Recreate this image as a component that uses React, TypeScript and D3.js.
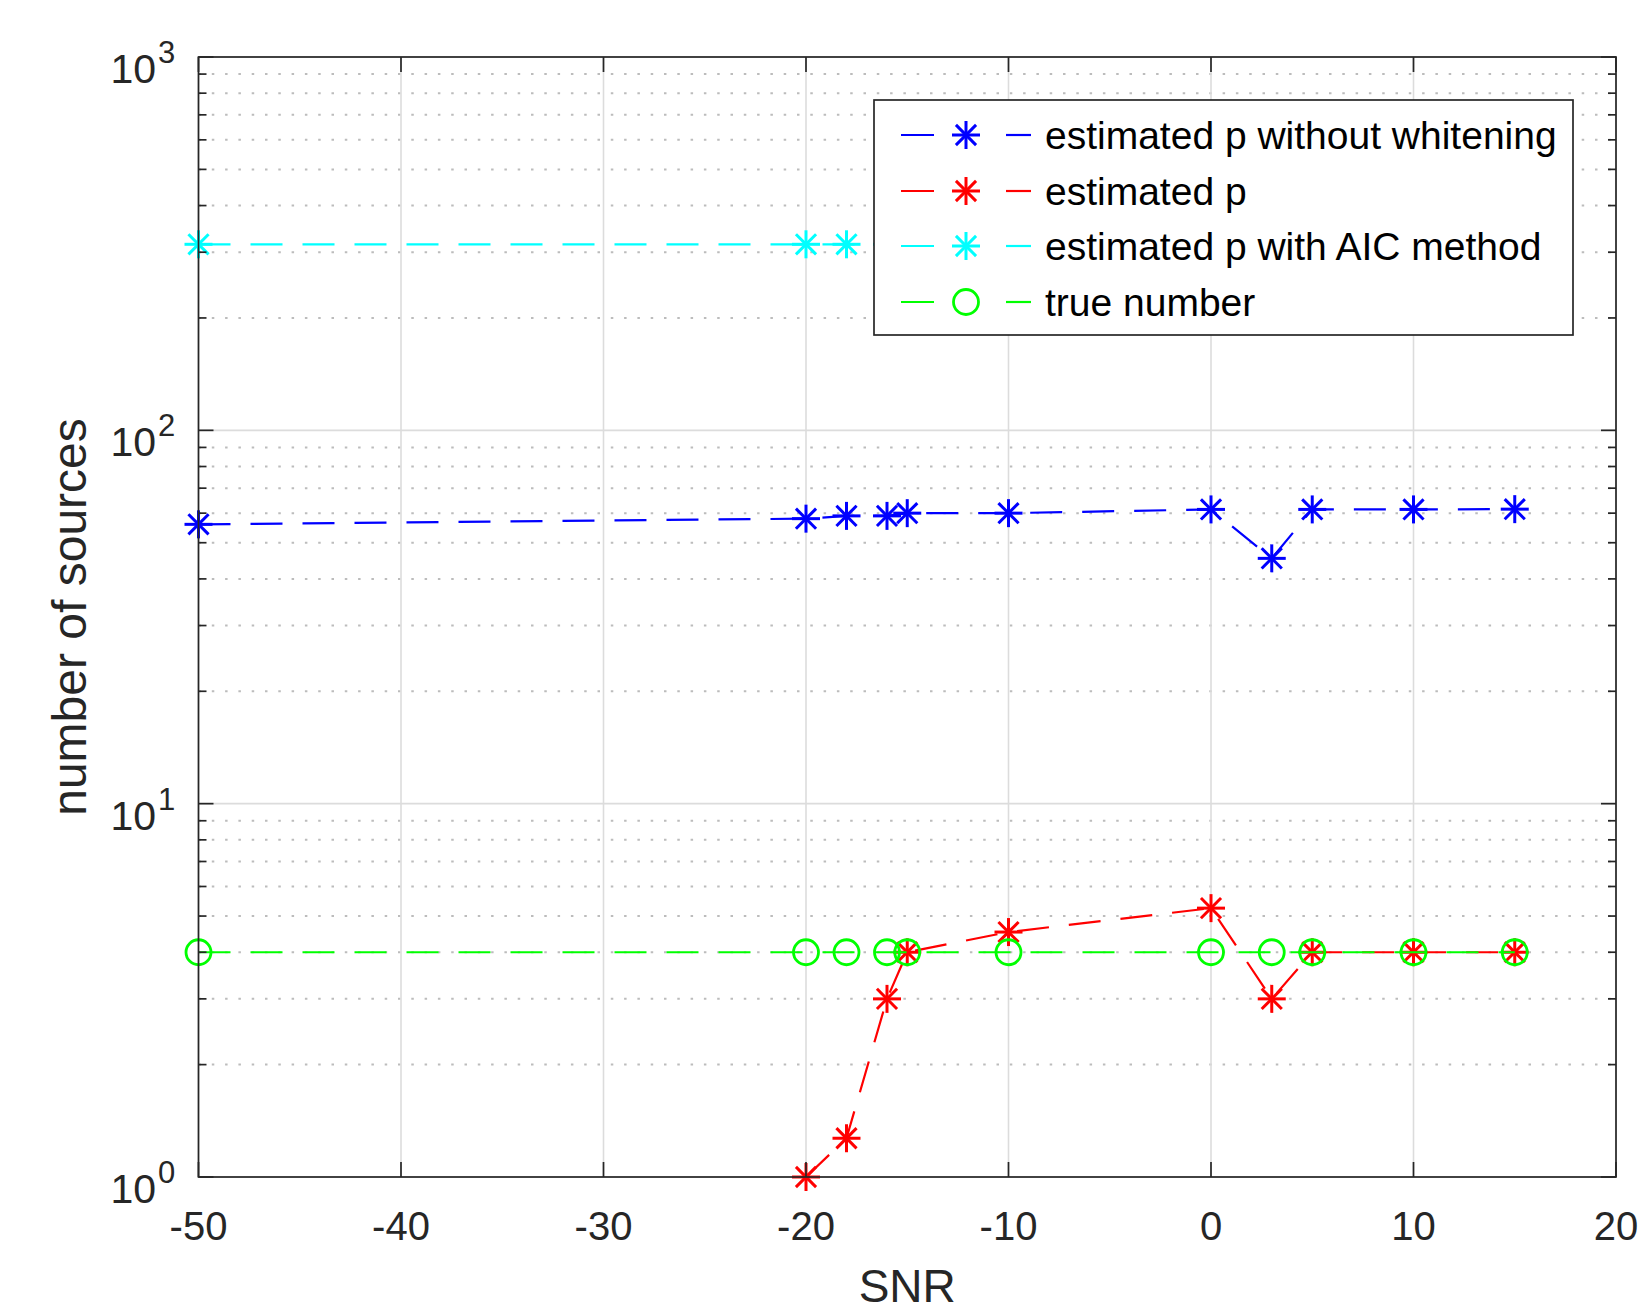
import React from "react";
import * as d3 from "d3";

const snr = [-50, -20, -18, -16, -15, -10, 0, 3, 5, 10, 15];
const pWithoutWhitening = [56, 58, 59, 59, 60, 60, 61.4, 45.4, 61.4, 61.4, 61.5];
const pEstimated = [0, 1, 1.27, 3, 4, 4.53, 5.25, 3, 4, 4, 4];
const pAIC = [315, 315, 315, 315, 315, 315, 315, 315, 315, 315, 315];
const trueNumber = [4, 4, 4, 4, 4, 4, 4, 4, 4, 4, 4];

const xTicks = [-50, -40, -30, -20, -10, 0, 10, 20];
const yDecades = [0, 1, 2, 3];

const seriesNames = [
  "estimated p without whitening",
  "estimated p",
  "estimated p with AIC method",
  "true number",
];
const seriesColors = ["#0000ff", "#ff0000", "#00ffff", "#00ff00"];
const seriesMarkers = ["star", "star", "star", "circle"];

const W = 1642;
const H = 1312;
const L = 198.5;
const R = 1616;
const T = 57;
const B = 1177;
const AX = "#262626";
const FONT = "'Liberation Sans', Arial, Helvetica, sans-serif";

function Star({ x, y, color }: { x: number; y: number; color: string }) {
  const r = 14;
  const d = r * 0.72;
  return (
    <g stroke={color} strokeWidth={3} fill="none">
      <line x1={x - r} y1={y} x2={x + r} y2={y} />
      <line x1={x} y1={y - r} x2={x} y2={y + r} />
      <line x1={x - d} y1={y - d} x2={x + d} y2={y + d} />
      <line x1={x - d} y1={y + d} x2={x + d} y2={y - d} />
    </g>
  );
}

function Circ({ x, y, color }: { x: number; y: number; color: string }) {
  return <circle cx={x} cy={y} r={12.5} stroke={color} strokeWidth={2.8} fill="none" />;
}

export default function App() {
  const x = d3.scaleLinear().domain([-50, 20]).range([L, R]);
  const y = d3.scaleLog().domain([1, 1000]).range([B, T]);

  const data = [pWithoutWhitening, pEstimated, pAIC, trueNumber];

  const line = d3
    .line<[number, number]>()
    .defined((d) => d[1] > 0)
    .x((d) => x(d[0]))
    .y((d) => y(d[1]));

  const minorVals: number[] = [];
  for (let k = 0; k < 3; k++) {
    for (let m = 2; m <= 9; m++) minorVals.push(m * Math.pow(10, k));
  }

  const legendYs = [135, 191, 246, 302];

  return (
    <svg
      width={W}
      height={H}
      style={{ position: "absolute", left: 0, top: 0, background: "#fff" }}
      fontFamily={FONT}
    >
      <rect x={0} y={0} width={W} height={H} fill="#ffffff" />
      {/* minor grid */}
      {minorVals.map((v) => (
        <line
          key={"mg" + v}
          x1={L}
          x2={R}
          y1={y(v)}
          y2={y(v)}
          stroke="#bcbcbc"
          strokeWidth={2}
          strokeDasharray="2.5 10.8"
        />
      ))}
      {/* major grid */}
      {xTicks.map((t) => (
        <line key={"gx" + t} x1={x(t)} x2={x(t)} y1={T} y2={B} stroke="#dcdcdc" strokeWidth={1.6} />
      ))}
      {yDecades.map((k) => (
        <line
          key={"gy" + k}
          x1={L}
          x2={R}
          y1={y(Math.pow(10, k))}
          y2={y(Math.pow(10, k))}
          stroke="#dcdcdc"
          strokeWidth={1.6}
        />
      ))}

      {/* series */}
      {data.map((vals, si) => {
        const pts: [number, number][] = snr.map((s, i) => [s, vals[i]]);
        return (
          <g key={"s" + si}>
            <path
              d={line(pts) || ""}
              fill="none"
              stroke={seriesColors[si]}
              strokeWidth={2.2}
              strokeDasharray="32 20"
            />
            {pts
              .filter((p) => p[1] > 0)
              .map((p, i) =>
                seriesMarkers[si] === "star" ? (
                  <Star key={i} x={x(p[0])} y={y(p[1])} color={seriesColors[si]} />
                ) : (
                  <Circ key={i} x={x(p[0])} y={y(p[1])} color={seriesColors[si]} />
                )
              )}
          </g>
        );
      })}

      {/* axes box and ticks */}
      <rect x={L} y={T} width={R - L} height={B - T} fill="none" stroke={AX} strokeWidth={1.7} />
      {xTicks.map((t) => (
        <g key={"tx" + t} stroke={AX} strokeWidth={1.7}>
          <line x1={x(t)} x2={x(t)} y1={B} y2={B - 15} />
          <line x1={x(t)} x2={x(t)} y1={T} y2={T + 15} />
        </g>
      ))}
      {yDecades.map((k) => {
        const yy = y(Math.pow(10, k));
        return (
          <g key={"ty" + k} stroke={AX} strokeWidth={1.7}>
            <line x1={L} x2={L + 15} y1={yy} y2={yy} />
            <line x1={R} x2={R - 15} y1={yy} y2={yy} />
          </g>
        );
      })}
      {minorVals.map((v) => (
        <g key={"tm" + v} stroke={AX} strokeWidth={1.7}>
          <line x1={L} x2={L + 8} y1={y(v)} y2={y(v)} />
          <line x1={R} x2={R - 8} y1={y(v)} y2={y(v)} />
        </g>
      ))}

      {/* tick labels */}
      {xTicks.map((t) => (
        <text key={"lx" + t} x={x(t)} y={1240} fontSize={40} fill={AX} textAnchor="middle">
          {String(t)}
        </text>
      ))}
      {yDecades.map((k) => {
        const yy = y(Math.pow(10, k));
        return (
          <g key={"ly" + k} fill={AX}>
            <text x={156} y={yy + 26} fontSize={41} textAnchor="end">
              10
            </text>
            <text x={158} y={yy + 6} fontSize={31} textAnchor="start">
              {String(k)}
            </text>
          </g>
        );
      })}

      {/* axis labels */}
      <text x={(L + R) / 2} y={1302} fontSize={46} fill={AX} textAnchor="middle">
        SNR
      </text>
      <text
        transform={`translate(86, ${(T + B) / 2}) rotate(-90)`}
        fontSize={48}
        fill={AX}
        textAnchor="middle"
      >
        number of sources
      </text>

      {/* legend */}
      <rect x={874} y={100} width={699} height={235} fill="#ffffff" stroke={AX} strokeWidth={1.7} />
      {seriesNames.map((name, i) => {
        const ly = legendYs[i];
        const c = seriesColors[i];
        return (
          <g key={"lg" + i}>
            <line x1={901} x2={934} y1={ly} y2={ly} stroke={c} strokeWidth={2.2} />
            <line x1={1006} x2={1031} y1={ly} y2={ly} stroke={c} strokeWidth={2.2} />
            {seriesMarkers[i] === "star" ? <Star x={966} y={ly} color={c} /> : <Circ x={966} y={ly} color={c} />}
            <text x={1045} y={ly + 14} fontSize={39} fill="#000">
              {name}
            </text>
          </g>
        );
      })}
    </svg>
  );
}
